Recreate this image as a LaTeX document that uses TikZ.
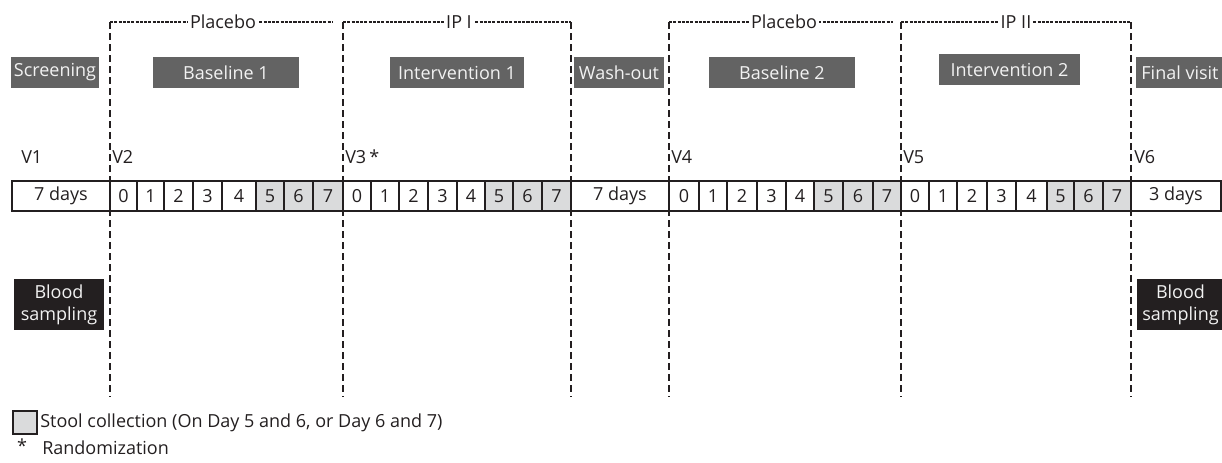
\documentclass[tikz,border=0pt]{standalone}
\usepackage{fontspec}
\setmainfont{Open Sans}
\usetikzlibrary{calc}
\definecolor{phasegrey}{HTML}{636363}
\definecolor{stoolgrey}{HTML}{DADBDC}
\definecolor{blooddark}{HTML}{231F20}
\definecolor{ink}{HTML}{231F20}
\definecolor{boxtext}{HTML}{F2F2F2}
\begin{document}
\begin{tikzpicture}[x=0.75pt,y=-0.75pt,
  every node/.style={font=\fontsize{13.5}{15}\selectfont, text=ink},
  phasebox/.style={fill=phasegrey, text=boxtext, inner sep=0pt, minimum height=31*0.75pt},
  bloodbox/.style={fill=blooddark, text=boxtext, inner sep=0pt, align=center,
                   minimum height=51*0.75pt, font=\fontsize{13.5}{16.5}\selectfont},
  visitline/.style={draw=ink, line width=2pt, dash pattern=on 5.25pt off 3pt},
  bracketline/.style={draw=ink, line width=1pt, dash pattern=on 2.3pt off 0.9pt},
  bracketlabel/.style={fill=white, inner xsep=1.5pt, inner ysep=0pt},
  daycell/.style={draw=ink, line width=1.5pt, inner sep=0pt, minimum height=30*0.75pt},
  stoolcell/.style={daycell, fill=stoolgrey},
  visitlabel/.style={anchor=west, inner sep=0pt}]

\useasboundingbox (0,0) rectangle (1222,462);

% ---- day cells -------------------------------------------------------
\node[daycell, minimum width=98*0.75pt] (run1) at (61,196) {7 days};
\foreach \l/\r/\n in {110/137/0,137/164/1,164/193/2,193/222/3,222/256/4}
  \node[daycell, minimum width={(\r-\l)*0.75pt}] (a\n) at ({(\l+\r)/2},196) {\n};
\foreach \l/\r/\n in {256/284/5,284/313/6,313/343/7}
  \node[stoolcell, minimum width={(\r-\l)*0.75pt}] (a\n) at ({(\l+\r)/2},196) {\n};

\foreach \l/\r/\n in {343/371/0,371/399/1,399/428/2,428/457/3,457/485/4}
  \node[daycell, minimum width={(\r-\l)*0.75pt}] (b\n) at ({(\l+\r)/2},196) {\n};
\foreach \l/\r/\n in {485/513/5,513/542/6,542/571/7}
  \node[stoolcell, minimum width={(\r-\l)*0.75pt}] (b\n) at ({(\l+\r)/2},196) {\n};

\node[daycell, minimum width=98*0.75pt] (wash) at (620,196) {7 days};

\foreach \l/\r/\n in {669/699/0,699/727/1,727/757/2,757/786/3,786/814/4}
  \node[daycell, minimum width={(\r-\l)*0.75pt}] (c\n) at ({(\l+\r)/2},196) {\n};
\foreach \l/\r/\n in {814/843/5,843/873/6,873/901/7}
  \node[stoolcell, minimum width={(\r-\l)*0.75pt}] (c\n) at ({(\l+\r)/2},196) {\n};

\foreach \l/\r/\n in {901/929/0,929/957/1,957/987/2,987/1016/3,1016/1047/4}
  \node[daycell, minimum width={(\r-\l)*0.75pt}] (d\n) at ({(\l+\r)/2},196) {\n};
\foreach \l/\r/\n in {1047/1074/5,1074/1103/6,1103/1131/7}
  \node[stoolcell, minimum width={(\r-\l)*0.75pt}] (d\n) at ({(\l+\r)/2},196) {\n};

\node[daycell, minimum width=90*0.75pt] (run3) at (1176,196) {3 days};

% outer frame of the day row
\draw[ink, line width=2pt] (12,181) rectangle (1221,211);

% ---- visit lines -----------------------------------------------------
\foreach \i/\x in {1/110,2/343,3/571,4/669,5/901,6/1131}{
  \coordinate (t\i) at (\x,22);
  \coordinate (b\i) at (\x,397);
}
\foreach \i in {1,...,6}
  \draw[visitline] (t\i) -- (b\i);

% ---- treatment brackets ----------------------------------------------
\coordinate (e1) at (333,22);
\coordinate (e4) at (893,22);
\draw[bracketline] (t1) -- (e1);
\draw[bracketline] (t2) -- (t3);
\draw[bracketline] (t4) -- (e4);
\draw[bracketline] (t5) -- (t6);
\node[bracketlabel] (plac1) at (223,22) {Placebo};
\node[bracketlabel] (ip1)   at (459,22) {IP I};
\node[bracketlabel] (plac2) at (784,22) {Placebo};
\node[bracketlabel] (ip2)   at (1016,22) {IP II};

% ---- phase boxes -----------------------------------------------------
\node[phasebox, minimum width=88*0.75pt]  (screen) at (55,72.5)    {Screening};
\node[phasebox, minimum width=146*0.75pt] (base1)  at (226,72.5)   {Baseline 1};
\node[phasebox, minimum width=134*0.75pt] (int1)   at (457,72.5)   {Intervention 1};
\node[phasebox, minimum width=90*0.75pt]  (washo)  at (619,72.5)   {Wash-out};
\node[phasebox, minimum width=146*0.75pt] (base2)  at (782,72.5)   {Baseline 2};
\node[phasebox, minimum width=141*0.75pt] (int2)   at (1009.5,69.5){Intervention 2};
\node[phasebox, minimum width=88*0.75pt]  (final)  at (1180,72.5)  {Final visit};

% ---- visit labels ----------------------------------------------------
\node[visitlabel] (v1) at (21,157)   {V1};
\node[visitlabel] (v2) at (112,157)  {V2};
\node[visitlabel] (v3) at (345,157)  {V3\,*};
\node[visitlabel] (v4) at (671,157)  {V4};
\node[visitlabel] (v5) at (903,157)  {V5};
\node[visitlabel] (v6) at (1134,157) {V6};

% ---- blood sampling --------------------------------------------------
\node[bloodbox, minimum width=90*0.75pt] (blood1) at (59,304.5)   {Blood\\sampling};
\node[bloodbox, minimum width=87*0.75pt] (blood2) at (1180.5,304.5) {Blood\\sampling};

% ---- legend ----------------------------------------------------------
\node[draw=ink, fill=stoolgrey, line width=1.5pt, inner sep=0pt,
      minimum width=24*0.75pt, minimum height=23*0.75pt] (key) at (24.5,422.5) {};
\node[anchor=west, inner sep=0pt] (keytext) at (40,422.5)
  {Stool collection (On Day 5 and 6, or Day 6 and 7)};
\node[inner sep=0pt] (star) at (22,446) {*};
\node[anchor=west, inner sep=0pt] (randtext) at (42,448) {Randomization};

\end{tikzpicture}
\end{document}
